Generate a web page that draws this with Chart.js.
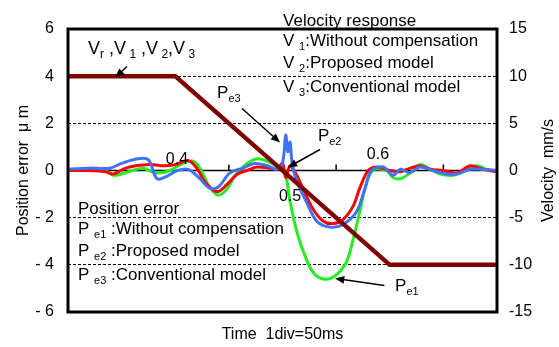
<!DOCTYPE html>
<html>
<head>
<meta charset="utf-8">
<script src="https://cdn.jsdelivr.net/npm/chart.js@4/dist/chart.umd.min.js"></script>
<style>
  html, body { margin: 0; padding: 0; background: #fff; }
  #wrap { width: 559px; height: 347px; }
</style>
</head>
<body>
<div id="wrap"><canvas id="chart" width="559" height="347"></canvas></div>
<script>
// time in seconds
const velTime = [0.3, 0.4, 0.6, 0.7];
const velValues = [10, 10, -10, -10];

// Pe1 - without compensation (green)
const pe1Time = [0.300, 0.311, 0.325, 0.335, 0.342, 0.350, 0.360, 0.370, 0.378, 0.386, 0.395, 0.405, 0.416, 0.423, 0.432, 0.440, 0.448, 0.456, 0.467, 0.477, 0.488, 0.497, 0.502, 0.507, 0.514, 0.523, 0.530, 0.538, 0.546, 0.553, 0.560, 0.566, 0.572, 0.577, 0.584, 0.597, 0.603, 0.610, 0.619, 0.628, 0.638, 0.647, 0.659, 0.670, 0.681, 0.690, 0.700];
const pe1Values = [0.0, 0.05, 0.0, 0.0, -0.2, -0.15, 0.0, 0.1, -0.05, -0.1, 0.0, 0.25, 0.4, 0.1, -0.7, -1.05, -0.8, -0.2, 0.3, 0.5, 0.35, 0.1, 0.0, -1.3, -2.7, -3.85, -4.4, -4.6, -4.55, -4.3, -3.85, -2.9, -1.75, -0.75, 0.0, 0.0, -0.3, -0.35, -0.1, 0.25, 0.05, -0.15, -0.2, 0.0, 0.2, 0.05, -0.05];

// Pe2 - proposed model (red)
const pe2Time = [0.300, 0.320, 0.335, 0.342, 0.355, 0.376, 0.390, 0.400, 0.412, 0.420, 0.428, 0.439, 0.448, 0.458, 0.467, 0.476, 0.488, 0.495, 0.500, 0.503, 0.507, 0.512, 0.519, 0.528, 0.538, 0.547, 0.556, 0.566, 0.572, 0.580, 0.588, 0.600, 0.610, 0.619, 0.628, 0.638, 0.650, 0.663, 0.675, 0.687, 0.700];
const pe2Values = [0.0, 0.0, -0.05, -0.15, 0.12, 0.25, 0.2, 0.25, 0.42, 0.1, -0.5, -0.9, -0.6, -0.15, 0.0, 0.15, 0.1, 0.05, 0.3, -0.3, 0.2, -0.1, -0.75, -1.6, -2.15, -2.25, -2.1, -1.5, -0.75, 0.0, 0.15, 0.0, -0.05, 0.1, 0.2, 0.05, 0.0, -0.1, 0.2, 0.05, -0.05];

// Pe3 - conventional model (blue)
const pe3Time = [0.300, 0.320, 0.339, 0.350, 0.365, 0.375, 0.383, 0.392, 0.402, 0.412, 0.422, 0.432, 0.440, 0.451, 0.463, 0.474, 0.486, 0.495, 0.500, 0.503, 0.505, 0.507, 0.509, 0.513, 0.523, 0.532, 0.544, 0.556, 0.569, 0.577, 0.583, 0.594, 0.603, 0.610, 0.619, 0.628, 0.640, 0.653, 0.663, 0.675, 0.687, 0.700];
const pe3Values = [0.05, 0.1, 0.1, 0.3, 0.5, 0.45, -0.35, -0.25, 0.0, 0.05, -0.3, -0.75, -0.7, -0.1, 0.1, 0.3, 0.2, 0.05, 0.3, 1.5, 0.8, 1.2, 0.3, -0.4, -1.4, -2.15, -2.4, -2.3, -1.75, -0.75, 0.0, 0.15, -0.2, 0.05, -0.1, 0.15, 0.0, -0.15, -0.15, 0.05, 0.05, 0.0];

// small tick marks on the zero line
const zeroTicks = [0.45, 0.55, 0.65];

function toPoints(xs, ys) {
  return xs.map((x, i) => ({ x: x, y: ys[i] }));
}

const FONT = '"Liberation Sans", Arial, sans-serif';

// text labels, in data units (x: s, y: position error)
const labels = [
  { parts: [["V", 0], ["r", 1], [" ,V", 0], [" 1", 1], [" ,V", 0], [" 2", 1], [",V", 0], [" 3", 1]], x: 0.3187, y: 5.17, size: 18 },
  { parts: [["P", 0], ["e3", 1]], x: 0.439, y: 3.26, size: 17 },
  { parts: [["P", 0], ["e2", 1]], x: 0.533, y: 1.44, size: 17 },
  { parts: [["P", 0], ["e1", 1]], x: 0.605, y: -4.92, size: 17 },
  { parts: [["0.4", 0]], x: 0.4016, y: 0.45, size: 16, align: "center" },
  { parts: [["0.5", 0]], x: 0.507, y: -1.1, size: 16, align: "center" },
  { parts: [["0.6", 0]], x: 0.589, y: 0.68, size: 16, align: "center" },
  { parts: [["Velocity response", 0]], x: 0.5005, y: 6.31, size: 17 },
  { parts: [["V ", 0], ["1", 1], [":Without compensation", 0]], x: 0.5005, y: 5.47, size: 17 },
  { parts: [["V ", 0], ["2", 1], [":Proposed model", 0]], x: 0.5005, y: 4.53, size: 17 },
  { parts: [["V ", 0], ["3", 1], [":Conventional model", 0]], x: 0.5005, y: 3.52, size: 17 },
  { parts: [["Position error", 0]], x: 0.3093, y: -1.65, size: 17 },
  { parts: [["P ", 0], ["e1", 1], [" :Without compensation", 0]], x: 0.3093, y: -2.5, size: 17 },
  { parts: [["P ", 0], ["e2", 1], [" :Proposed model", 0]], x: 0.3093, y: -3.43, size: 17 },
  { parts: [["P ", 0], ["e3", 1], [" :Conventional model", 0]], x: 0.3093, y: -4.45, size: 17 },
];

const arrows = [
  { from: [0.355, 4.41], to: [0.344, 3.94] },
  { from: [0.4622, 2.63], to: [0.4977, 1.19] },
  { from: [0.535, 0.89], to: [0.505, 0.13] },
  { from: [0.595, -4.88], to: [0.549, -4.58] },
];

function drawRich(ctx, item, px, py) {
  const size = item.size;
  let total = 0;
  item.parts.forEach((p) => {
    ctx.font = (p[1] ? Math.round(size * 0.65) : size) + "px " + FONT;
    total += ctx.measureText(p[0]).width;
  });
  let cx = item.align === "center" ? px - total / 2 : px;
  item.parts.forEach((p) => {
    ctx.font = (p[1] ? Math.round(size * 0.65) : size) + "px " + FONT;
    ctx.fillText(p[0], cx, p[1] ? py + size * 0.32 : py);
    cx += ctx.measureText(p[0]).width;
  });
}

const decorPlugin = {
  id: "decor",
  beforeDatasetsDraw(chart) {
    const ctx = chart.ctx;
    const xs = chart.scales.x;
    const ys = chart.scales.y;
    const area = chart.chartArea;
    const y0 = ys.getPixelForValue(0);
    ctx.save();
    ctx.strokeStyle = "#000";
    ctx.lineWidth = 1.5;
    ctx.beginPath();
    ctx.moveTo(area.left, y0);
    ctx.lineTo(area.right, y0);
    zeroTicks.forEach((t) => {
      const px = xs.getPixelForValue(t);
      ctx.moveTo(px, y0);
      ctx.lineTo(px, y0 - 6);
    });
    ctx.stroke();
    ctx.restore();
  },
  afterDraw(chart) {
    const ctx = chart.ctx;
    const xs = chart.scales.x;
    const ys = chart.scales.y;
    const area = chart.chartArea;
    ctx.save();
    // frame
    ctx.strokeStyle = "#000";
    ctx.lineWidth = 3;
    ctx.strokeRect(area.left, area.top, area.right - area.left, area.bottom - area.top);

    // labels
    ctx.fillStyle = "#000";
    ctx.textBaseline = "middle";
    ctx.textAlign = "left";
    labels.forEach((item) => {
      drawRich(ctx, item, xs.getPixelForValue(item.x), ys.getPixelForValue(item.y));
    });

    // arrows
    ctx.lineWidth = 1.5;
    arrows.forEach((a) => {
      const x1 = xs.getPixelForValue(a.from[0]);
      const y1 = ys.getPixelForValue(a.from[1]);
      const x2 = xs.getPixelForValue(a.to[0]);
      const y2 = ys.getPixelForValue(a.to[1]);
      const ang = Math.atan2(y2 - y1, x2 - x1);
      ctx.beginPath();
      ctx.moveTo(x1, y1);
      ctx.lineTo(x2 - 6 * Math.cos(ang), y2 - 6 * Math.sin(ang));
      ctx.stroke();
      ctx.beginPath();
      ctx.moveTo(x2, y2);
      ctx.lineTo(x2 - 10 * Math.cos(ang - 0.4), y2 - 10 * Math.sin(ang - 0.4));
      ctx.lineTo(x2 - 10 * Math.cos(ang + 0.4), y2 - 10 * Math.sin(ang + 0.4));
      ctx.closePath();
      ctx.fill();
    });

    // axis titles
    ctx.font = "16px " + FONT;
    ctx.textAlign = "center";
    ctx.fillText("Time  1div=50ms", (area.left + area.right) / 2, 335);
    ctx.save();
    ctx.translate(24, (area.top + area.bottom) / 2);
    ctx.rotate(-Math.PI / 2);
    ctx.fillText("Position error  \u03bc m", 0, 0);
    ctx.restore();
    ctx.save();
    ctx.translate(549, (area.top + area.bottom) / 2);
    ctx.rotate(-Math.PI / 2);
    ctx.fillText("Velocity  mm/s", 0, 0);
    ctx.restore();
    ctx.restore();
  },
};

const ctx = document.getElementById("chart").getContext("2d");
const chart = new Chart(ctx, {
  type: "line",
  data: {
    datasets: [
      {
        label: "V",
        data: toPoints(velTime, velValues),
        yAxisID: "y2",
        borderColor: "#800000",
        borderWidth: 4.5,
        tension: 0,
      },
      {
        label: "Pe3",
        data: toPoints(pe3Time, pe3Values),
        yAxisID: "y",
        borderColor: "#3f72f5",
        borderWidth: 3,
        tension: 0.35,
      },
      {
        label: "Pe2",
        data: toPoints(pe2Time, pe2Values),
        yAxisID: "y",
        borderColor: "#ff0000",
        borderWidth: 3,
        tension: 0.35,
      },
      {
        label: "Pe1",
        data: toPoints(pe1Time, pe1Values),
        yAxisID: "y",
        borderColor: "#22ee22",
        borderWidth: 3,
        tension: 0.35,
      },
    ],
  },
  options: {
    responsive: false,
    animation: false,
    elements: { point: { radius: 0 } },
    layout: { padding: { top: 29, left: 0, right: 0, bottom: 0 } },
    plugins: { legend: { display: false }, tooltip: { enabled: false } },
    scales: {
      x: {
        type: "linear",
        min: 0.3,
        max: 0.7,
        ticks: { display: false },
        grid: { display: false },
        border: { display: false },
        afterFit: (s) => { s.height = 35; },
      },
      y: {
        position: "left",
        min: -6,
        max: 6,
        ticks: {
          stepSize: 2,
          padding: 14,
          color: "#000",
          font: { family: FONT, size: 16 },
          callback: (v) => (v < 0 ? "- " + Math.abs(v) : String(v)),
        },
        grid: {
          drawTicks: false,
          lineWidth: 1,
          color: (c) => ([2, 4, -2, -4].includes(c.tick && c.tick.value) ? "#000" : "rgba(0,0,0,0)"),
        },
        border: { display: false, dash: [3, 2] },
        afterFit: (s) => { s.width = 68; },
      },
      y2: {
        position: "right",
        min: -15,
        max: 15,
        ticks: {
          stepSize: 5,
          padding: 12,
          color: "#000",
          font: { family: FONT, size: 16 },
        },
        grid: { display: false, drawTicks: false },
        border: { display: false },
        afterFit: (s) => { s.width = 62; },
      },
    },
  },
  plugins: [decorPlugin],
});
</script>
</body>
</html>
